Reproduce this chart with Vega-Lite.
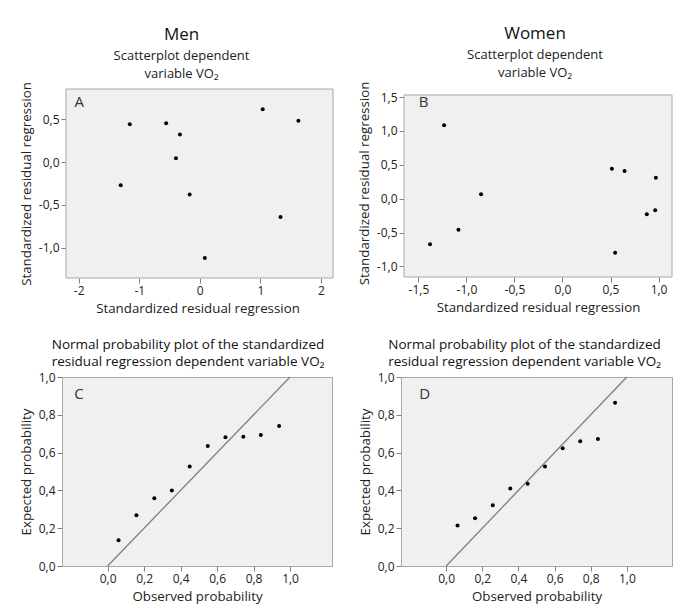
{
  "$schema": "https://vega.github.io/schema/vega-lite/v6.json",
  "padding": {"left": 18, "top": 25, "right": 5, "bottom": 5},
  "background": "white",
  "config": {
    "font": "Open Sans",
    "view": {"fill": "#f0f0f0", "stroke": "#a8a8a8", "strokeWidth": 1},
    "axis": {"domain": false, "grid": false, "ticks": true, "tickSize": 5, "tickColor": "#808080", "labelFontSize": 12, "labelColor": "#222", "titleFontSize": 13.3, "titleFontWeight": "normal", "titleColor": "#222", "labelPadding": 2, "titlePadding": 5, "labelOverlap": false, "labelFlush": false, "labelBound": false, "tickCount": 30},
    "title": {"fontWeight": "normal", "color": "#111", "subtitleColor": "#222", "subtitleFontSize": 13, "subtitleLineHeight": 18, "subtitlePadding": 6}
  },
  "datasets": {
    "menRes": [
      {"x": -1.156, "y": 0.44}, {"x": -1.306, "y": -0.269}, {"x": -0.556, "y": 0.452},
      {"x": -0.328, "y": 0.319}, {"x": -0.394, "y": 0.043}, {"x": -0.167, "y": -0.378},
      {"x": 0.083, "y": -1.118}, {"x": 1.039, "y": 0.615}, {"x": 1.628, "y": 0.479},
      {"x": 1.333, "y": -0.639}
    ],
    "womenRes": [
      {"x": -1.233, "y": 1.085}, {"x": -1.379, "y": -0.673}, {"x": -1.083, "y": -0.457},
      {"x": -0.848, "y": 0.064}, {"x": 0.514, "y": 0.442}, {"x": 0.646, "y": 0.408},
      {"x": 0.972, "y": 0.309}, {"x": 0.965, "y": -0.172}, {"x": 0.878, "y": -0.231},
      {"x": 0.548, "y": -0.796}
    ],
    "menPP": [
      {"obs": 0.06, "exp": 0.136}, {"obs": 0.158, "exp": 0.268}, {"obs": 0.256, "exp": 0.358},
      {"obs": 0.352, "exp": 0.40}, {"obs": 0.45, "exp": 0.526}, {"obs": 0.549, "exp": 0.635},
      {"obs": 0.646, "exp": 0.681}, {"obs": 0.744, "exp": 0.684}, {"obs": 0.84, "exp": 0.693},
      {"obs": 0.94, "exp": 0.741}
    ],
    "womenPP": [
      {"obs": 0.063, "exp": 0.214}, {"obs": 0.16, "exp": 0.253}, {"obs": 0.258, "exp": 0.322},
      {"obs": 0.355, "exp": 0.41}, {"obs": 0.451, "exp": 0.435}, {"obs": 0.547, "exp": 0.527},
      {"obs": 0.645, "exp": 0.623}, {"obs": 0.742, "exp": 0.66}, {"obs": 0.84, "exp": 0.672},
      {"obs": 0.935, "exp": 0.864}
    ],
    "one": [{}]
  },
  "columns": 2,
  "align": "none",
  "spacing": {"column": 23, "row": 22},
  "concat": [
    {
      "width": 271, "height": 189,
      "view": {"fill": null, "stroke": null},
      "title": {"text": "Men", "fontSize": 17, "subtitle": ["Scatterplot dependent", "variable VO₂"], "offset": 0, "dx": -16},
      "layer": [
        {
          "data": {"name": "one"},
          "mark": {"type": "rect", "fill": "#f0f0f0", "stroke": "#a8a8a8", "strokeWidth": 1},
          "encoding": {"x": {"datum": -2.21}, "x2": {"datum": 2.2}, "y": {"datum": -1.35}, "y2": {"datum": 0.85}}
        },
        {
          "data": {"name": "menRes"},
          "mark": {"type": "circle", "size": 16, "color": "#000", "opacity": 1},
          "encoding": {
            "x": {"field": "x", "type": "quantitative", "scale": {"domain": [-2.276, 2.2], "nice": false, "zero": false},
                  "axis": {"title": "Standardized residual regression", "values": [-2, -1, 0, 1, 2], "labelExpr": "(datum.value<0?'-':'') + format(abs(datum.value),'.0f')"}},
            "y": {"field": "y", "type": "quantitative", "scale": {"domain": [-1.35, 0.85], "nice": false, "zero": false},
                  "axis": {"title": "Standardized residual regression", "offset": -4, "values": [-1, -0.5, 0, 0.5], "labelExpr": "(datum.value<0?'-':'') + replace(format(abs(datum.value),'.1f'),'.',',')"}}
          }
        },
        {
          "data": {"name": "one"},
          "mark": {"type": "text", "align": "left", "baseline": "alphabetic", "fontSize": 15, "color": "#333"},
          "encoding": {"x": {"datum": -2.07}, "y": {"datum": 0.64}, "text": {"value": "A"}}
        }
      ]
    },
    {
      "width": 268, "height": 188,
      "view": {"fill": null, "stroke": null},
      "title": {"text": "Women", "fontSize": 17, "subtitle": ["Scatterplot dependent", "variable VO₂"], "offset": 0, "dx": -3},
      "layer": [
        {
          "data": {"name": "one"},
          "mark": {"type": "rect", "fill": "#f0f0f0", "stroke": "#a8a8a8", "strokeWidth": 1},
          "encoding": {"x": {"datum": -1.65}, "x2": {"datum": 1.14}, "y": {"datum": -1.155}, "y2": {"datum": 1.53}}
        },
        {
          "data": {"name": "womenRes"},
          "mark": {"type": "circle", "size": 16, "color": "#000", "opacity": 1},
          "encoding": {
            "x": {"field": "x", "type": "quantitative", "scale": {"domain": [-1.65, 1.14], "nice": false, "zero": false},
                  "axis": {"title": "Standardized residual regression", "values": [-1.5, -1, -0.5, 0, 0.5, 1], "labelExpr": "(datum.value<0?'-':'') + replace(format(abs(datum.value),'.1f'),'.',',')"}},
            "y": {"field": "y", "type": "quantitative", "scale": {"domain": [-1.155, 1.618], "nice": false, "zero": false},
                  "axis": {"title": "Standardized residual regression", "values": [-1, -0.5, 0, 0.5, 1, 1.5], "labelExpr": "(datum.value<0?'-':'') + replace(format(abs(datum.value),'.1f'),'.',',')"}}
          }
        },
        {
          "data": {"name": "one"},
          "mark": {"type": "text", "align": "left", "baseline": "alphabetic", "fontSize": 15, "color": "#333"},
          "encoding": {"x": {"datum": -1.497}, "y": {"datum": 1.35}, "text": {"value": "B"}}
        }
      ]
    },
    {
      "width": 270, "height": 189,
      "title": {"text": ["Normal probability plot of the standardized", "residual regression dependent variable VO₂"], "fontSize": 13.5, "lineHeight": 17, "offset": 3, "dx": -9},
      "layer": [
        {
          "data": {"name": "one"},
          "mark": {"type": "rule", "color": "#808080", "strokeWidth": 1.3},
          "encoding": {"x": {"datum": 0}, "y": {"datum": 0}, "x2": {"datum": 1}, "y2": {"datum": 1}}
        },
        {
          "data": {"name": "menPP"},
          "mark": {"type": "circle", "size": 16, "color": "#000", "opacity": 1},
          "encoding": {
            "x": {"field": "obs", "type": "quantitative", "scale": {"domain": [-0.25, 1.23], "nice": false, "zero": false},
                  "axis": {"title": "Observed probability", "values": [0, 0.2, 0.4, 0.6, 0.8, 1], "labelExpr": "replace(format(datum.value,'.1f'),'.',',')"}},
            "y": {"field": "exp", "type": "quantitative", "scale": {"domain": [0, 1], "nice": false, "zero": false},
                  "axis": {"title": "Expected probability", "values": [0, 0.2, 0.4, 0.6, 0.8, 1], "labelExpr": "replace(format(datum.value,'.1f'),'.',',')"}}
          }
        },
        {
          "data": {"name": "one"},
          "mark": {"type": "text", "align": "left", "baseline": "alphabetic", "fontSize": 15, "color": "#333"},
          "encoding": {"x": {"datum": -0.183}, "y": {"datum": 0.884}, "text": {"value": "C"}}
        }
      ]
    },
    {
      "width": 271, "height": 189,
      "title": {"text": ["Normal probability plot of the standardized", "residual regression dependent variable VO₂"], "fontSize": 13.5, "lineHeight": 17, "offset": 3, "dx": -12},
      "layer": [
        {
          "data": {"name": "one"},
          "mark": {"type": "rule", "color": "#808080", "strokeWidth": 1.3},
          "encoding": {"x": {"datum": 0}, "y": {"datum": 0}, "x2": {"datum": 1}, "y2": {"datum": 1}}
        },
        {
          "data": {"name": "womenPP"},
          "mark": {"type": "circle", "size": 16, "color": "#000", "opacity": 1},
          "encoding": {
            "x": {"field": "obs", "type": "quantitative", "scale": {"domain": [-0.25, 1.25], "nice": false, "zero": false},
                  "axis": {"title": "Observed probability", "values": [0, 0.2, 0.4, 0.6, 0.8, 1], "labelExpr": "replace(format(datum.value,'.1f'),'.',',')"}},
            "y": {"field": "exp", "type": "quantitative", "scale": {"domain": [0, 1], "nice": false, "zero": false},
                  "axis": {"title": "Expected probability", "values": [0, 0.2, 0.4, 0.6, 0.8, 1], "labelExpr": "replace(format(datum.value,'.1f'),'.',',')"}}
          }
        },
        {
          "data": {"name": "one"},
          "mark": {"type": "text", "align": "left", "baseline": "alphabetic", "fontSize": 15, "color": "#333"},
          "encoding": {"x": {"datum": -0.149}, "y": {"datum": 0.884}, "text": {"value": "D"}}
        }
      ]
    }
  ]
}
